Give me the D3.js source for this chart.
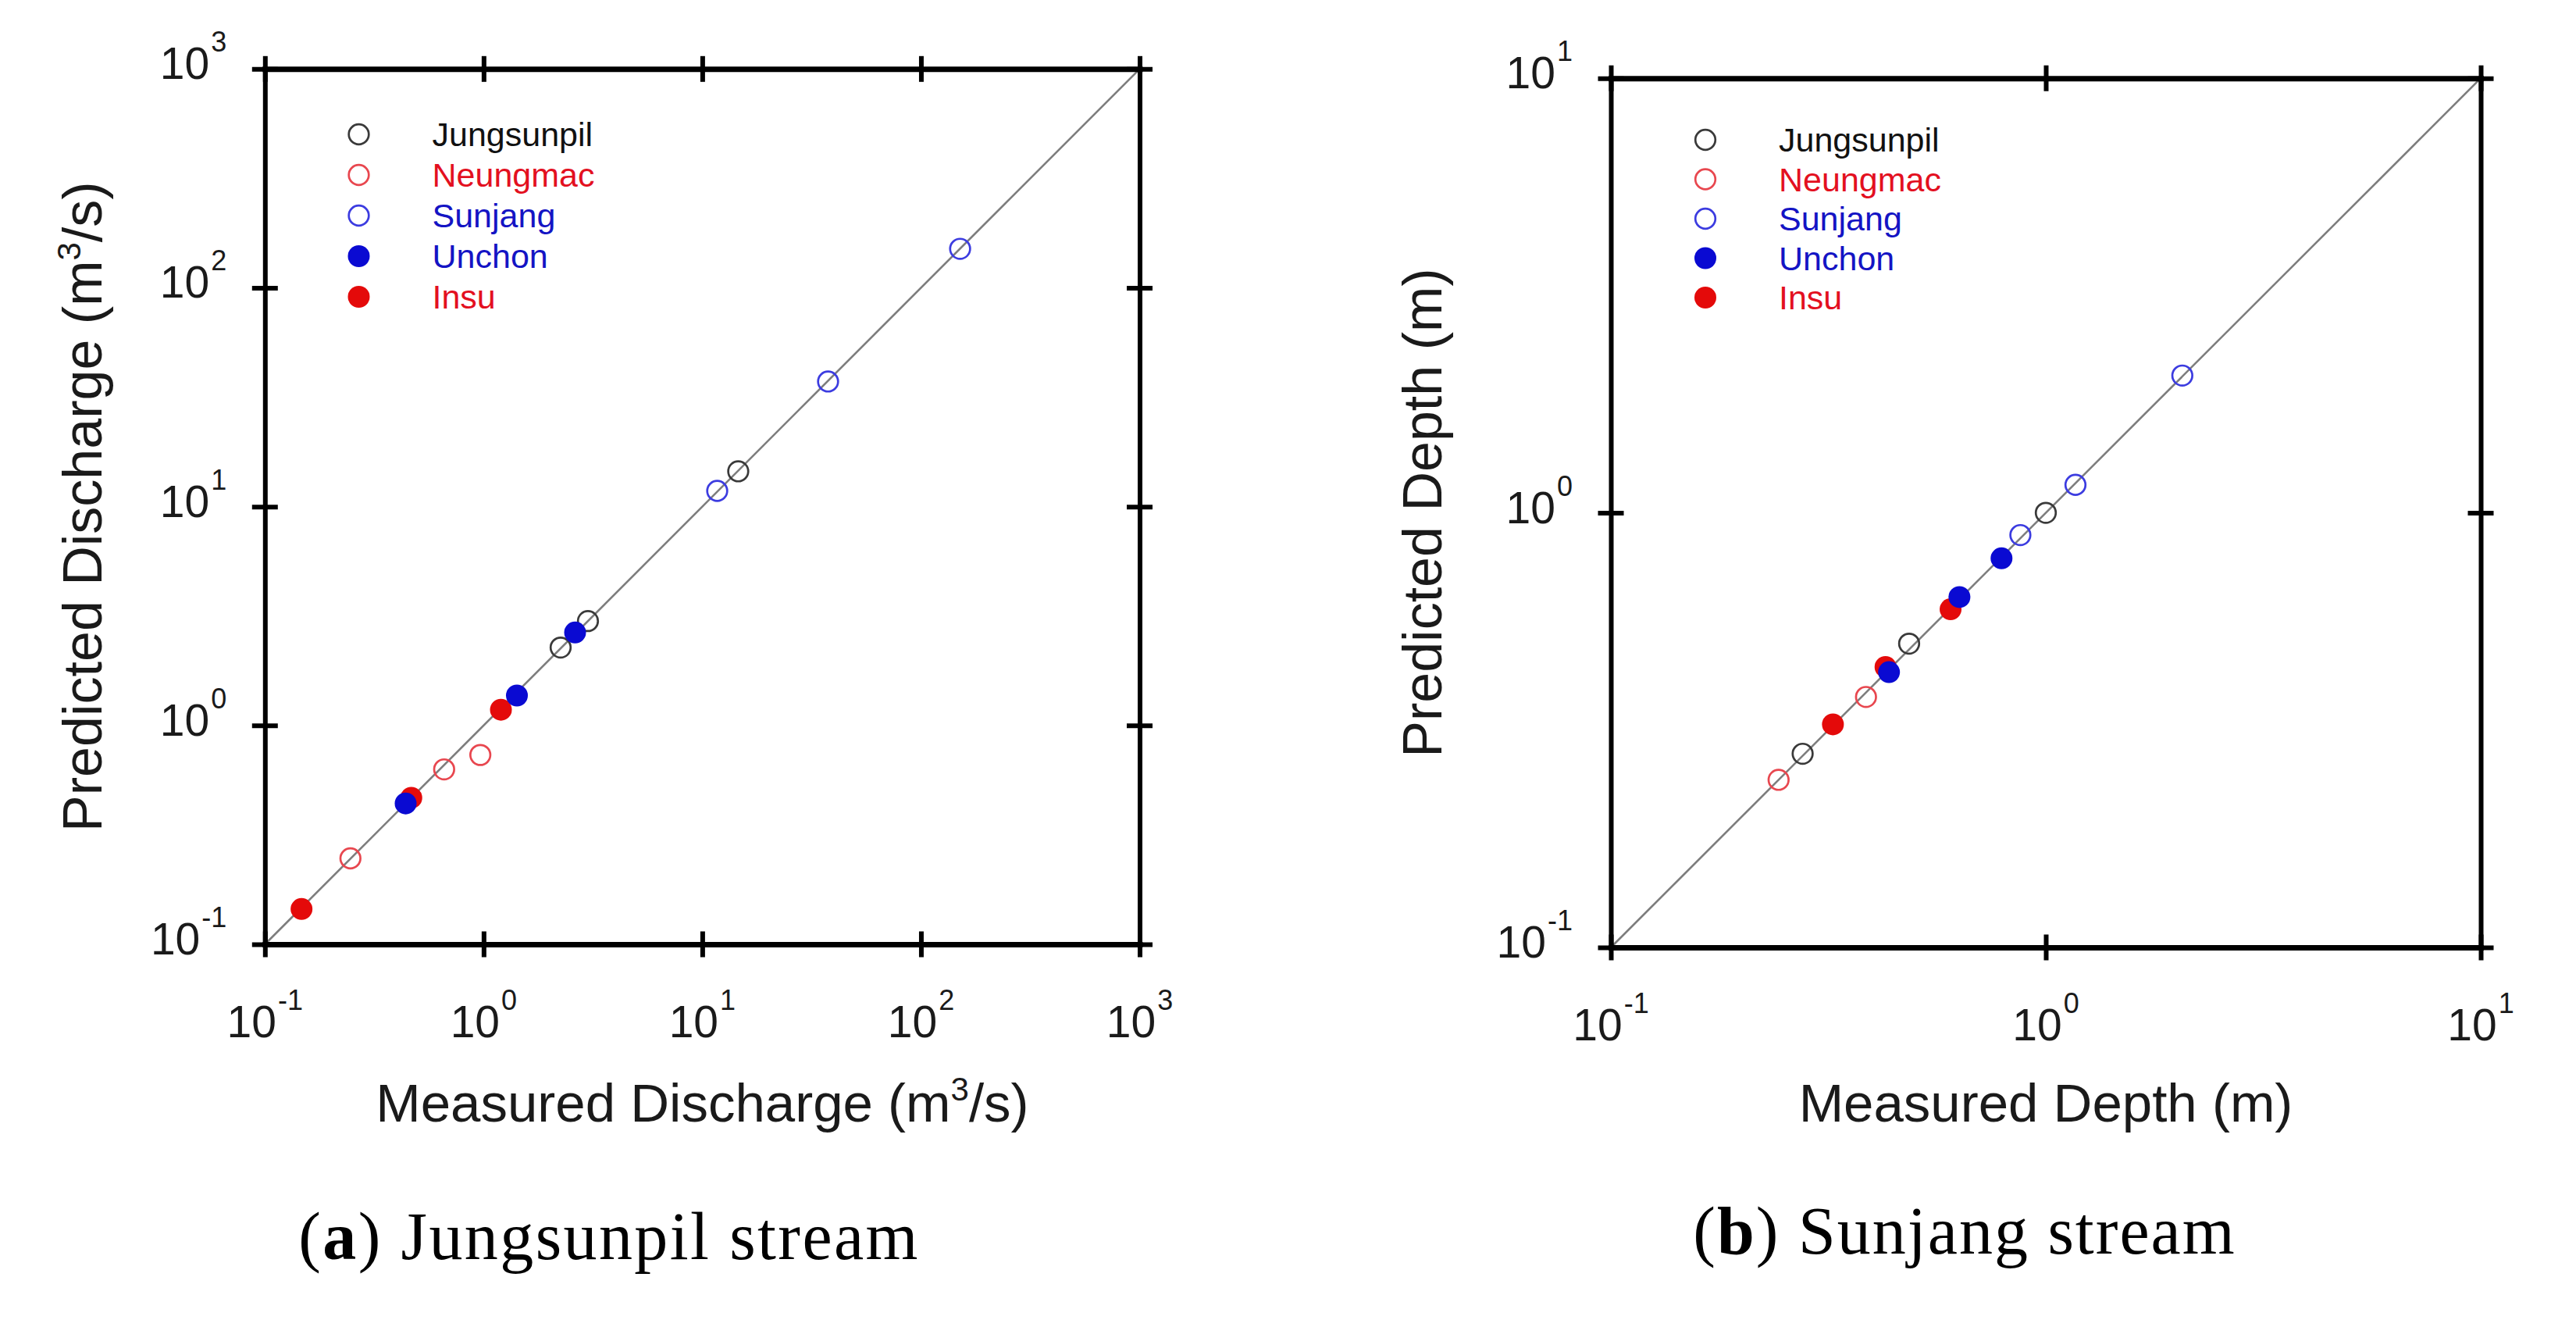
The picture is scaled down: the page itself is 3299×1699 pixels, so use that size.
<!DOCTYPE html>
<html>
<head>
<meta charset="utf-8">
<script src="https://cdn.jsdelivr.net/npm/d3@7"></script>
<style>
  html, body { margin: 0; padding: 0; background: #ffffff; }
  svg { display: block; }
</style>
</head>
<body>
<svg id="chart" width="3299" height="1699"></svg>
<script>
// ---------------- DATA ----------------
const stations = ["Jungsunpil", "Neungmac", "Sunjang", "Unchon", "Insu"];

// Panel (a): [measured, predicted] discharge (m3/s)
const qJungsunpil = [[2.25, 2.27], [3.0, 3.0], [14.6, 14.5]];
const qNeungmac   = [[0.246, 0.247], [0.66, 0.63], [0.966, 0.733]];
const qSunjang    = [[11.7, 11.8], [37.6, 37.3], [151, 150.7]];
const qUnchon     = [[0.44, 0.44], [1.42, 1.37], [2.62, 2.66]];
const qInsu       = [[0.147, 0.145], [0.467, 0.467], [1.2, 1.18]];

// Panel (b): [measured, predicted] depth (m)
const dJungsunpil = [[0.276, 0.279], [0.485, 0.50], [1.0, 1.0]];
const dNeungmac   = [[0.243, 0.243], [0.386, 0.377]];
const dSunjang    = [[0.874, 0.889], [1.17, 1.16], [2.06, 2.07]];
const dUnchon     = [[0.436, 0.43], [0.633, 0.64], [0.791, 0.786]];
const dInsu       = [[0.324, 0.326], [0.428, 0.442], [0.604, 0.60]];

const dischargeTickExps = [-1, 0, 1, 2, 3];
const depthTickExps = [-1, 0, 1];

const dischargeDomain = [0.1, 1000];
const depthDomain = [0.1, 10];

// ---------------- STYLES ----------------
const styleByStation = {
  Jungsunpil: { filled: false, color: "#3a3a3a", text: "#111111" },
  Neungmac:   { filled: false, color: "#e8474f", text: "#e3101f" },
  Sunjang:    { filled: false, color: "#3c3ce0", text: "#1414c4" },
  Unchon:     { filled: true,  color: "#0a0ad2", text: "#1414c4" },
  Insu:       { filled: true,  color: "#e40a0a", text: "#e3101f" }
};

const svg = d3.select("#chart");
const SANS = "'Liberation Sans', Arial, sans-serif";
const SERIF = "'Liberation Serif', 'Times New Roman', serif";

function drawPanel(cfg) {
  const x = d3.scaleLog().domain(cfg.domain).range([cfg.left, cfg.right]);
  const y = d3.scaleLog().domain(cfg.domain).range([cfg.bottom, cfg.top]);
  const ticks = cfg.exps.map(e => Math.pow(10, e));
  const g = svg.append("g");

  // 1:1 line
  g.append("line")
    .attr("x1", x(cfg.domain[0])).attr("y1", y(cfg.domain[0]))
    .attr("x2", x(cfg.domain[1])).attr("y2", y(cfg.domain[1]))
    .attr("stroke", "#7d7d7d").attr("stroke-width", 2.6);

  // points: open first, then filled (Insu, Unchon on top)
  const order = ["Jungsunpil", "Neungmac", "Sunjang", "Insu", "Unchon"];
  order.forEach(name => {
    const st = styleByStation[name];
    const data = cfg.series[name];
    g.selectAll(null).data(data).enter().append("circle")
      .attr("cx", d => x(d[0]))
      .attr("cy", d => y(d[1]))
      .attr("r", st.filled ? 14 : 12.8)
      .attr("fill", st.filled ? st.color : "none")
      .attr("stroke", st.filled ? "none" : st.color)
      .attr("stroke-width", 2.7);
  });

  // axes (frame) with crossing ticks
  const tk = 16.5;
  function styleAxis(sel, horiz, domW) {
    sel.select(".domain").attr("stroke", "#000").attr("stroke-width", domW)
      .attr("stroke-linecap", "square");
    sel.selectAll(".tick line").attr("stroke", "#000").attr("stroke-width", 6)
      .each(function () {
        const l = d3.select(this);
        if (horiz) l.attr("y1", -tk).attr("y2", tk);
        else l.attr("x1", -tk).attr("x2", tk);
      });
    sel.selectAll(".tick text").remove();
  }
  const axB = g.append("g").attr("transform", `translate(0,${cfg.bottom})`)
    .call(d3.axisBottom(x).tickValues(ticks).tickFormat("").tickSizeOuter(0));
  styleAxis(axB, true, 7);
  const axT = g.append("g").attr("transform", `translate(0,${cfg.top})`)
    .call(d3.axisTop(x).tickValues(ticks).tickFormat("").tickSizeOuter(0));
  styleAxis(axT, true, 7);
  const axL = g.append("g").attr("transform", `translate(${cfg.left},0)`)
    .call(d3.axisLeft(y).tickValues(ticks).tickFormat("").tickSizeOuter(0));
  styleAxis(axL, false, 6);
  const axR = g.append("g").attr("transform", `translate(${cfg.right},0)`)
    .call(d3.axisRight(y).tickValues(ticks).tickFormat("").tickSizeOuter(0));
  styleAxis(axR, false, 6);

  // tick labels 10^n
  function powLabel(sel, e) {
    sel.append("tspan").attr("font-size", 57).text("10");
    sel.append("tspan").attr("font-size", 36).attr("dx", 2).attr("dy", -35).text(String(e));
  }
  cfg.exps.forEach(e => {
    const v = Math.pow(10, e);
    const tb = g.append("text").attr("x", x(v)).attr("y", cfg.bottom + 119)
      .attr("text-anchor", "middle").attr("font-family", SANS).attr("fill", "#1a1a1a");
    powLabel(tb, e);
    const tl = g.append("text").attr("x", cfg.left - 49).attr("y", y(v) + 13)
      .attr("text-anchor", "end").attr("font-family", SANS).attr("fill", "#1a1a1a");
    powLabel(tl, e);
  });

  // axis titles
  const cx = (cfg.left + cfg.right) / 2;
  const cy = (cfg.top + cfg.bottom) / 2;
  const xt = g.append("text").attr("x", cx).attr("y", 1436)
    .attr("text-anchor", "middle").attr("font-family", SANS).attr("font-size", 69).attr("fill", "#1a1a1a");
  cfg.xTitle.forEach(p => {
    const t = xt.append("tspan").text(p.t);
    if (p.sup) t.attr("font-size", 42).attr("dy", -27);
    if (p.down) t.attr("dy", 27);
  });
  const yt = g.append("text")
    .attr("transform", `translate(${cfg.yTitleX},${cy}) rotate(-90)`)
    .attr("text-anchor", "middle").attr("font-family", SANS).attr("font-size", 70).attr("fill", "#1a1a1a");
  cfg.yTitle.forEach(p => {
    const t = yt.append("tspan").text(p.t);
    if (p.sup) t.attr("font-size", 42).attr("dy", -27);
    if (p.down) t.attr("dy", 27);
  });

  // legend
  stations.forEach((name, i) => {
    const st = styleByStation[name];
    const ly = cfg.legendY + i * cfg.legendStep;
    g.append("circle").attr("cx", cfg.legendX).attr("cy", ly)
      .attr("r", st.filled ? 14 : 12.8)
      .attr("fill", st.filled ? st.color : "none")
      .attr("stroke", st.filled ? "none" : st.color)
      .attr("stroke-width", 2.7);
    g.append("text").attr("x", cfg.legendX + 94).attr("y", ly + 15)
      .attr("font-family", SANS).attr("font-size", 43).attr("fill", st.text)
      .text(name);
  });

  // caption
  const cap = g.append("text").attr("x", cfg.capX).attr("y", cfg.capY)
    .attr("text-anchor", "middle").attr("font-family", SERIF).attr("font-size", 86)
    .attr("letter-spacing", cfg.capSpacing).attr("fill", "#000");
  cap.append("tspan").text("(");
  cap.append("tspan").attr("font-weight", "bold").text(cfg.capLetter);
  cap.append("tspan").text(") " + cfg.capText);
}

drawPanel({
  domain: dischargeDomain, exps: dischargeTickExps,
  left: 339.3, right: 1459.5, top: 88.3, bottom: 1209,
  series: { Jungsunpil: qJungsunpil, Neungmac: qNeungmac, Sunjang: qSunjang, Unchon: qUnchon, Insu: qInsu },
  xTitle: [{ t: "Measured Discharge (m" }, { t: "3", sup: true }, { t: "/s)", down: true }],
  yTitle: [{ t: "Predicted Discharge (m" }, { t: "3", sup: true }, { t: "/s)", down: true }],
  yTitleX: 130,
  legendX: 459.5, legendY: 172, legendStep: 52,
  capX: 780, capY: 1612, capLetter: "a", capText: "Jungsunpil stream", capSpacing: 2.4
});

drawPanel({
  domain: depthDomain, exps: depthTickExps,
  left: 2063, right: 3177, top: 100.2, bottom: 1213,
  series: { Jungsunpil: dJungsunpil, Neungmac: dNeungmac, Sunjang: dSunjang, Unchon: dUnchon, Insu: dInsu },
  xTitle: [{ t: "Measured Depth (m)" }],
  yTitle: [{ t: "Predicted Depth (m)" }],
  yTitleX: 1846,
  legendX: 2184, legendY: 179, legendStep: 50.5,
  capX: 2516, capY: 1605, capLetter: "b", capText: "Sunjang stream", capSpacing: 2
});
</script>
</body>
</html>
